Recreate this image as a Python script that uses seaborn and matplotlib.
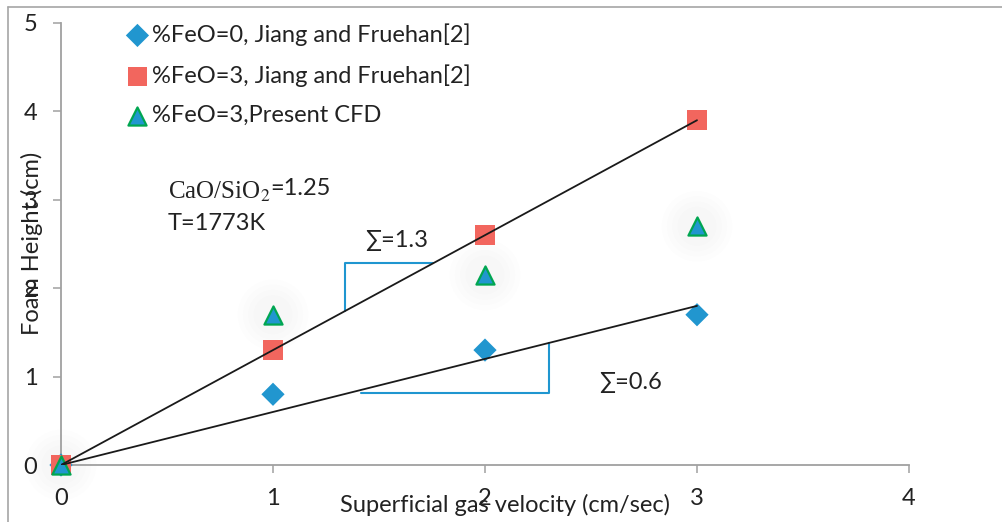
import numpy as np
import pandas as pd
import matplotlib
matplotlib.use("Agg")
import matplotlib.pyplot as plt
from matplotlib.lines import Line2D
import seaborn as sns

# Superficial gas velocity (cm/sec) and foam height (cm)
velocity = [0, 1, 2, 3]
feo0_jiang = [0, 0.8, 1.3, 1.7]
feo3_jiang = [0, 1.3, 2.6, 3.9]
feo3_cfd = [0, 1.7, 2.15, 2.7]

series_names = [
    "%FeO=0, Jiang and Fruehan[2]",
    "%FeO=3, Jiang and Fruehan[2]",
    "%FeO=3,Present CFD",
]

# Foaming index (slope of the fitted lines through the origin)
slope_feo3 = 1.3
slope_feo0 = 0.6
fit_x_end = 3

sns.set_theme(style="white")
plt.rcParams["font.family"] = ["Lato", "DejaVu Sans"]
plt.rcParams["mathtext.fontset"] = "stix"

FS = 17
fig = plt.figure(figsize=(10.02, 5.22), dpi=100)
ax = fig.add_axes([61 / 1002, 1 - 465 / 522, 848 / 1002, 442 / 522])

blue = "#2196cf"
red = "#f2665e"
green = "#00a651"
grey = "#a0a0a0"
bracket = "#1f96d0"
ink = "#222222"

df = pd.DataFrame({"v": velocity, "h0": feo0_jiang, "h3": feo3_jiang, "cfd": feo3_cfd})

# soft halo behind the CFD points
for s, a in [(2600, 0.007), (1900, 0.007), (1300, 0.007), (800, 0.007)]:
    sns.scatterplot(data=df, x="v", y="cfd", ax=ax, s=s, color="black",
                    alpha=a, edgecolor="none", legend=False, zorder=1, clip_on=False)

# fitted lines through the origin
fit_x = np.array([0, fit_x_end])
sns.lineplot(x=fit_x, y=slope_feo3 * fit_x, ax=ax, color="#1a1a1a", lw=1.3, zorder=4)
sns.lineplot(x=fit_x, y=slope_feo0 * fit_x, ax=ax, color="#1a1a1a", lw=1.3, zorder=4)

sns.scatterplot(data=df, x="v", y="h0", ax=ax, marker="D", s=140, color=blue,
                edgecolor="none", label=series_names[0], zorder=3, clip_on=False)
sns.scatterplot(data=df, x="v", y="h3", ax=ax, marker="s", s=200, color=red,
                edgecolor="none", label=series_names[1], zorder=3, clip_on=False)
sns.scatterplot(data=df, x="v", y="cfd", ax=ax, marker="^", s=170, color=blue,
                edgecolor=green, linewidth=1.6, label=series_names[2], zorder=3,
                clip_on=False)

# slope brackets
x_a, x_b = 1.34, 1.755
ax.plot([x_a, x_a, x_b], [slope_feo3 * x_a, slope_feo3 * x_b, slope_feo3 * x_b],
        color=bracket, lw=1.5, zorder=2)
y_c, x_d = 0.815, 2.30
ax.plot([1.415, x_d, x_d], [y_c, y_c, slope_feo0 * x_d],
        color=bracket, lw=1.5, zorder=2)

txt_kw = dict(fontsize=FS, color=ink, va="center", ha="left")
ax.text(1.434, 2.545, f"\u2211={slope_feo3}", **txt_kw)
ax.text(2.54, 0.93, f"\u2211={slope_feo0}", **txt_kw)

t1 = ax.text(0.505, 3.09, "CaO/SiO$_{2}$", fontsize=FS + 1, family="Liberation Serif",
             color=ink, va="center", ha="left")
ax.annotate("=1.25", xy=(1, 0.22), xycoords=t1, fontsize=FS, color=ink,
            va="bottom", ha="left")
ax.text(0.505, 2.73, "T=1773K", **txt_kw)

ax.set_xlim(0, 4)
ax.set_ylim(0, 5)
ax.set_xticks([0, 1, 2, 3, 4])
ax.set_yticks([0, 1, 2, 3, 4, 5])
ax.tick_params(axis="both", labelsize=FS, colors=grey, labelcolor=ink,
               length=6, width=1.1, left=True, bottom=True, direction="out")
ax.tick_params(axis="y", pad=11)
ax.tick_params(axis="x", pad=10.5)

for side in ["top", "right"]:
    ax.spines[side].set_visible(False)
for side in ["left", "bottom"]:
    ax.spines[side].set_color(grey)
    ax.spines[side].set_linewidth(1.3)

ax.set_xlabel("")
ax.set_ylabel("")
fig.text(505 / 1002, 1 - 505 / 522, "Superficial gas velocity (cm/sec)", fontsize=FS,
         color=ink, ha="center", va="center")
fig.text(32 / 1002, 1 - 243 / 522, "Foam Height (cm)", fontsize=FS, rotation=90,
         color=ink, ha="center", va="center")

leg = ax.legend(loc="upper left", bbox_to_anchor=(128 / 1002, 1 - 23 / 522),
                bbox_transform=fig.transFigure, frameon=False, fontsize=FS,
                handlelength=0.8, handletextpad=0.2, labelspacing=0.78,
                borderpad=0, borderaxespad=0)
for t in leg.get_texts():
    t.set_color(ink)

# outer frame
fig.add_artist(Line2D([7.5 / 1002, 7.5 / 1002], [0, 1 - 7 / 522], color="#a6a6a6",
                      lw=1.2, transform=fig.transFigure))
fig.add_artist(Line2D([7.5 / 1002, 1], [1 - 7 / 522, 1 - 7 / 522], color="#a6a6a6",
                      lw=1.2, transform=fig.transFigure))

fig.savefig("out.png", dpi=100)
